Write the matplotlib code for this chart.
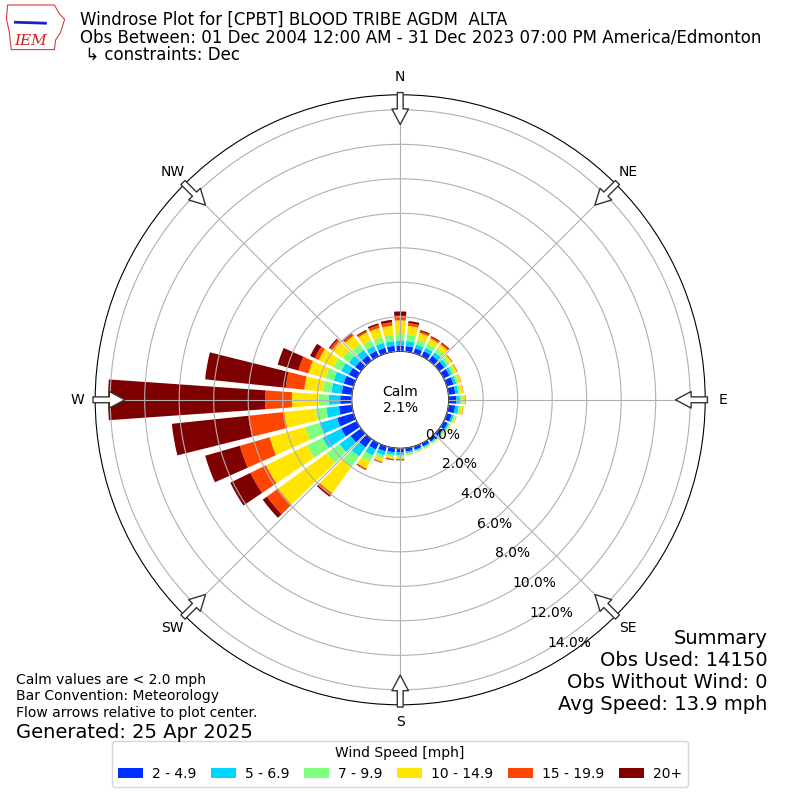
import numpy as np
import matplotlib
matplotlib.use('Agg')
import matplotlib.pyplot as plt
from matplotlib.patches import Polygon

# direction bins (degrees, meteorological) and percent of obs per speed bin
directions = np.arange(0, 360, 10)
speed_labels = ['2 - 4.9', '5 - 6.9', '7 - 9.9', '10 - 14.9', '15 - 19.9', '20+']
speed_colors = ['#0030ff', '#00d4ff', '#7fff7d', '#ffe500', '#ff4600', '#7f0000']

pct_2_5 = [0.34, 0.32, 0.30, 0.33, 0.35, 0.36, 0.38, 0.40, 0.40, 0.45, 0.40, 0.30,
           0.25, 0.20, 0.19, 0.20, 0.20, 0.20, 0.25, 0.25, 0.30, 0.40, 0.60, 0.75,
           1.00, 1.00, 0.76, 0.67, 0.60, 0.60, 0.50, 0.42, 0.38, 0.35, 0.33, 0.33]
pct_5_7 = [0.29, 0.30, 0.22, 0.22, 0.25, 0.20, 0.18, 0.18, 0.18, 0.20, 0.20, 0.13,
           0.10, 0.08, 0.08, 0.08, 0.08, 0.10, 0.15, 0.15, 0.25, 0.40, 0.65, 0.80,
           1.20, 1.05, 0.74, 0.67, 0.60, 0.60, 0.50, 0.45, 0.40, 0.32, 0.30, 0.28]
pct_7_10 = [0.37, 0.40, 0.30, 0.27, 0.25, 0.17, 0.14, 0.13, 0.13, 0.15, 0.13, 0.08,
            0.07, 0.05, 0.04, 0.05, 0.05, 0.06, 0.10, 0.12, 0.20, 0.40, 0.75, 0.90,
            1.00, 0.87, 0.62, 0.58, 0.50, 0.50, 0.50, 0.45, 0.40, 0.37, 0.35, 0.35]
pct_10_15 = [0.79, 0.48, 0.40, 0.33, 0.30, 0.17, 0.16, 0.15, 0.15, 0.17, 0.13, 0.08,
             0.06, 0.04, 0.04, 0.04, 0.04, 0.05, 0.12, 0.12, 0.18, 0.43, 1.90, 3.49,
             2.65, 2.15, 1.83, 1.55, 1.08, 1.03, 0.95, 0.75, 0.60, 0.50, 0.55, 0.55]
pct_15_20 = [0.27, 0.16, 0.11, 0.09, 0.10, 0.04, 0.03, 0.02, 0.02, 0.03, 0.02, 0.01,
             0.00, 0.01, 0.00, 0.00, 0.01, 0.01, 0.05, 0.05, 0.05, 0.07, 0.15, 0.80,
             1.00, 1.79, 2.09, 1.55, 1.08, 0.60, 0.25, 0.15, 0.12, 0.10, 0.17, 0.20]
pct_20p = [0.25, 0.12, 0.07, 0.06, 0.05, 0.01, 0.01, 0.00, 0.00, 0.00, 0.00, 0.00,
           0.00, 0.00, 0.00, 0.00, 0.00, 0.00, 0.03, 0.03, 0.02, 0.03, 0.09, 0.30,
           1.30, 2.09, 4.46, 9.10, 4.70, 1.25, 0.30, 0.08, 0.05, 0.06, 0.10, 0.14]

calm_pct = 2.1
compass = ['N', 'NE', 'E', 'SE', 'S', 'SW', 'W', 'NW']

title_lines = ['Windrose Plot for [CPBT] BLOOD TRIBE AGDM  ALTA',
               'Obs Between: 01 Dec 2004 12:00 AM - 31 Dec 2023 07:00 PM America/Edmonton',
               ' \u21b3 constraints: Dec']
summary = 'Summary\nObs Used: 14150\nObs Without Wind: 0\nAvg Speed: 13.9 mph'
notes = ('Calm values are < 2.0 mph\nBar Convention: Meteorology\n'
         'Flow arrows relative to plot center.')


def main():
  fig = plt.figure(figsize=(8, 8), dpi=100)
  ax = fig.add_axes([0.119, 0.119, 0.7625, 0.7625], projection='polar')
  ax.set_theta_zero_location('N')
  ax.set_theta_direction(-1)

  theta = np.radians(directions)
  width = np.radians(8)
  bottom = np.zeros(len(directions))
  series = [pct_2_5, pct_5_7, pct_7_10, pct_10_15, pct_15_20, pct_20p]
  for vals, lab, col in zip(series, speed_labels, speed_colors):
    vals = np.array(vals)
    ax.bar(theta, vals, width=width, bottom=bottom, color=col, label=lab,
           linewidth=0, zorder=2)
    bottom += vals

  rmax = 14.87
  ax.set_rorigin(-2.81)
  ax.set_rlim(0, rmax)
  ticks = np.arange(0, 15, 2)
  ax.set_rgrids(ticks, labels=['%.1f%%' % t for t in ticks], fontsize=10)
  ax.set_rlabel_position(149.5)
  ax.set_thetagrids(np.arange(0, 360, 45), compass, fontsize=10)
  ax.tick_params(axis='x', pad=2)
  ax.grid(True, color='#b0b0b0', linewidth=0.8, zorder=3)
  ax.set_axisbelow(False)

  # flow arrows, pointing toward plot center
  for ang in np.arange(0, 360, 45):
    ax.annotate('', xy=(np.radians(ang), 13.15), xytext=(np.radians(ang), 15.0),
                annotation_clip=False,
                arrowprops=dict(arrowstyle='simple,head_length=0.8,head_width=0.85,'
                                'tail_width=0.3',
                                mutation_scale=14, fc='white', ec='#333333', lw=1,
                                shrinkA=0, shrinkB=0), zorder=5)

  ax.text(0.5, 0.5, 'Calm\n%.1f%%' % calm_pct, transform=ax.transAxes,
          ha='center', va='center', fontsize=10)

  for i, line in enumerate(title_lines):
    fig.text(0.1, 1 - (20 + 17.5 * i) / 800, line, ha='left', va='center',
             fontsize=12)
  fig.text(0.959, 0.107, summary, ha='right', va='bottom', fontsize=14)
  fig.text(0.02, 0.1005, notes, ha='left', va='bottom', fontsize=10)
  fig.text(0.02, 0.073, 'Generated: 25 Apr 2025', ha='left', va='bottom',
           fontsize=14)

  ax.legend(loc='lower center', bbox_to_anchor=(0.5, 0.008), ncol=6,
            bbox_transform=fig.transFigure, title='Wind Speed [mph]',
            fontsize=10, title_fontsize=10, handlelength=1.8,
            columnspacing=1.05, handletextpad=0.65)

  # simple IEM logo
  lax = fig.add_axes([0.008, 0.935, 0.075, 0.06])
  lax.set_xlim(0, 1)
  lax.set_ylim(0, 1)
  lax.axis('off')
  outline = [(0.02, 0.98), (0.80, 0.98), (0.88, 0.80), (0.97, 0.68), (0.90, 0.40),
             (0.82, 0.25), (0.80, 0.05), (0.08, 0.05), (0.05, 0.40), (0.00, 0.70)]
  lax.add_patch(Polygon(outline, closed=True, fill=False, ec='#d04040', lw=0.8))
  lax.plot([0.15, 0.65], [0.62, 0.60], color='#2020c0', lw=2)
  lax.text(0.40, 0.22, 'IEM', color='#d02020', fontsize=11, style='italic',
           family='DejaVu Serif', ha='center', va='center')

  fig.savefig('out.png', dpi=100)


if __name__ == '__main__':
  main()
